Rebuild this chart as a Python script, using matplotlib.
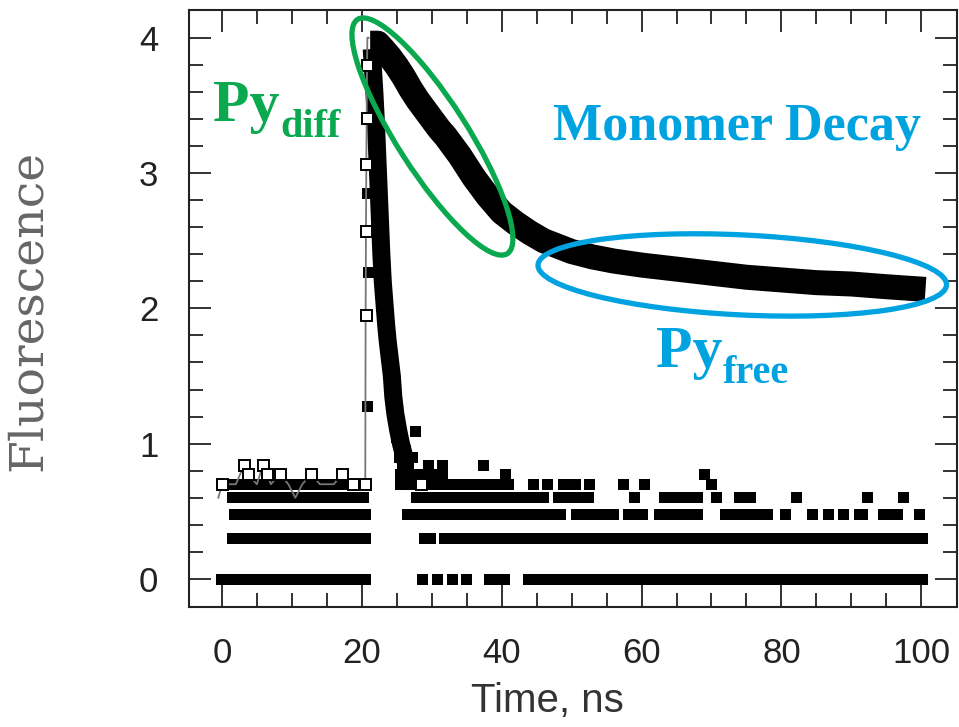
import numpy as np
import matplotlib
matplotlib.use("Agg")
import matplotlib.pyplot as plt
from matplotlib.patches import Ellipse
from matplotlib.transforms import ScaledTranslation

# --- data (time in ns, fluorescence = log10 counts) ---
# main decay band (monomer + diffusion quenched part), band centre
decay_t = [21.2, 22.3, 23.0, 24.0, 25.0, 26.0, 27.0, 28.0, 29.0, 30.0, 31.0, 32.0,
           33.0, 34.0, 35.0, 36.0, 37.0, 38.0, 39.0, 40.0, 42.0, 44.0, 46.0, 48.0,
           50.0, 53.0, 56.0, 60.0, 65.0, 70.0, 75.0, 80.0, 85.0, 90.0, 95.0, 100.6]
decay_v = [3.96, 3.96, 3.92, 3.86, 3.79, 3.71, 3.62, 3.54, 3.47, 3.40, 3.33, 3.27,
           3.20, 3.13, 3.05, 2.97, 2.90, 2.83, 2.77, 2.71, 2.63, 2.56, 2.50, 2.46,
           2.42, 2.38, 2.35, 2.32, 2.29, 2.26, 2.23, 2.21, 2.19, 2.18, 2.16, 2.14]

# fast component (filled squares)
fast_t = [21.5, 21.8, 22.0, 22.2, 22.4, 22.6, 22.8, 23.0, 23.3, 23.5,
          23.7, 24.0, 24.3, 24.5, 24.8, 25.2, 25.6, 26.0]
fast_v = [3.85, 3.60, 3.40, 3.15, 2.90, 2.65, 2.40, 2.20, 2.00, 1.87,
          1.76, 1.63, 1.50, 1.35, 1.22, 1.10, 1.00, 0.92]

# scattered filled squares above the count rows
spot_t = [20.7, 20.8, 20.9, 27.6, 31.5, 37.3, 40.5, 25.3, 25.8, 26.6, 29.4,
          69.0, 70.0, 24.9, 25.4, 26.2, 27.2]
spot_v = [1.28, 2.85, 2.27, 1.09, 0.845, 0.845, 0.778, 0.903, 0.845, 0.845, 0.845,
          0.778, 0.699, 1.05, 0.96, 0.95, 0.903]

# runs of filled squares on integer-count levels: count -> [(t_start, t_end), ...]
runs = {
    1: [(-0.1, 20.5), (28.6, 28.6), (30.8, 30.8), (32.9, 32.9), (34.9, 34.9),
        (38.2, 40.4), (43.7, 100.1)],
    2: [(1.5, 20.5), (28.9, 29.7), (31.7, 100.1)],
    3: [(1.8, 20.5), (26.5, 48.3), (50.6, 55.9), (58.0, 60.0), (62.5, 67.9),
        (72.0, 77.9), (80.5, 80.5), (84.4, 84.4), (86.7, 86.7), (88.8, 88.8),
        (91.1, 91.5), (94.5, 96.5), (99.7, 99.7)],
    4: [(1.5, 20.2), (27.7, 45.9), (48.1, 52.3), (58.9, 58.9), (63.2, 68.0),
        (70.6, 70.6), (73.9, 75.5), (82.1, 82.1), (92.3, 92.3), (97.4, 97.4)],
    5: [(0.5, 20.5), (25.5, 40.9), (44.5, 44.5), (46.5, 46.5), (48.8, 50.5),
        (52.5, 52.5), (57.4, 57.4), (60.4, 60.4)],
    6: [(25.5, 31.5)],
}

# open squares (excitation profile) with thin line
irf_t = [-0.5, 0.0, 1.0, 2.0, 3.2, 3.7, 5.0, 5.9, 7.0, 8.3, 9.5, 10.5, 11.5, 12.8,
         14.0, 15.0, 16.0, 17.2, 18.8, 20.0, 20.5, 20.55, 20.6, 20.65, 20.7,
         20.75, 20.8, 21.0]
irf_v = [0.60, 0.70, 0.70, 0.70, 0.845, 0.778, 0.70, 0.845, 0.70, 0.778, 0.70,
         0.60, 0.70, 0.778, 0.70, 0.70, 0.70, 0.778, 0.70, 0.70, 0.70, 1.95,
         2.57, 3.07, 3.41, 3.80, 4.0, 4.0]
irf_open_t = [0.0, 3.2, 3.7, 5.9, 6.4, 8.3, 12.8, 17.2, 18.8, 20.5, 20.55, 20.6,
              20.65, 20.7, 20.75, 28.4]
irf_open_v = [0.70, 0.845, 0.778, 0.845, 0.778, 0.778, 0.778, 0.778, 0.70, 0.70,
              1.95, 2.57, 3.07, 3.41, 3.80, 0.70]

plt.rcParams['font.family'] = ['Liberation Sans', 'DejaVu Sans']

fig = plt.figure(figsize=(9.59, 7.27), dpi=100)
ax = fig.add_axes([0.1971, 0.1655, 0.8008, 0.8207])

px = 72.0 / fig.dpi  # points per pixel
sq = 11 * px

# decay band
ax.plot(decay_t, decay_v, color='k', lw=25 * px, solid_capstyle='butt',
        solid_joinstyle='round', zorder=3)

# count rows
for n, segs in runs.items():
    lev = np.log10(n)
    for a, b in segs:
        ax.plot([a, b], [lev, lev], color='k', lw=sq, marker='s', ms=sq,
                mew=0, solid_capstyle='butt', zorder=2)

ax.plot(fast_t, fast_v, color='k', lw=18 * px, marker='s', ms=sq, mew=0, zorder=3)
ax.plot(spot_t, spot_v, 's', color='k', ms=sq, mew=0, zorder=3)

ax.plot(irf_t, irf_v, color='#777777', lw=1.3, zorder=4)
ax.plot(irf_open_t, irf_open_v, 's', mfc='white', mec='k', ms=11 * px, mew=1.4, zorder=5)

ax.set_xlim(-4.7, 105.1)
ax.set_ylim(-0.205, 4.205)
ax.set_xticks([0, 20, 40, 60, 80, 100])
ax.set_xticks(np.arange(0, 101, 5), minor=True)
ax.set_yticks([0, 1, 2, 3, 4])
ax.set_yticks(np.arange(0, 4.01, 0.2), minor=True)
ax.tick_params(which='both', direction='in', top=True, right=True, width=1.3,
               colors='#222222')
ax.tick_params(which='major', length=16, labelsize=25, pad=22)
ax.tick_params(which='minor', length=10)
for s in ax.spines.values():
    s.set_linewidth(1.5)
    s.set_color('#222222')

ax.set_xlabel('Time, ns', fontsize=29, color='#333333')
ax.xaxis.set_label_coords(0.467, -0.126)
ax.set_ylabel('Fluorescence', fontsize=34, color='#666666',
              family=['DejaVu Serif'])
ax.yaxis.set_label_coords(-0.180, 0.497)

# annotation ellipses (sizes in inches, centres in data units)
green = '#0aa84f'
blue = '#00a3e0'
e1 = Ellipse((0, 0), 2.78, 0.70, angle=-57.4, fill=False, ec=green, lw=3.8,
             transform=fig.dpi_scale_trans + ScaledTranslation(30.1, 3.27, ax.transData),
             zorder=6)
e2 = Ellipse((0, 0), 4.09, 0.80, angle=-2.8, fill=False, ec=blue, lw=3.8,
             transform=fig.dpi_scale_trans + ScaledTranslation(74.4, 2.247, ax.transData),
             zorder=6)
ax.add_patch(e1)
ax.add_patch(e2)

serif = ['Liberation Serif', 'DejaVu Serif']
fig.text(213 / 959, 1 - 121 / 727, 'Py', color=green, fontsize=43, fontweight='bold',
         family=serif)
fig.text(280 / 959, 1 - 137 / 727, 'diff', color=green, fontsize=29, fontweight='bold',
         family=serif)
fig.text(553 / 959, 1 - 140 / 727, 'Monomer Decay', color=blue, fontsize=37.5,
         fontweight='bold', family=serif)
fig.text(656 / 959, 1 - 367 / 727, 'Py', color=blue, fontsize=43, fontweight='bold',
         family=serif)
fig.text(723 / 959, 1 - 383 / 727, 'free', color=blue, fontsize=29, fontweight='bold',
         family=serif)

fig.savefig('out.png', dpi=100)
